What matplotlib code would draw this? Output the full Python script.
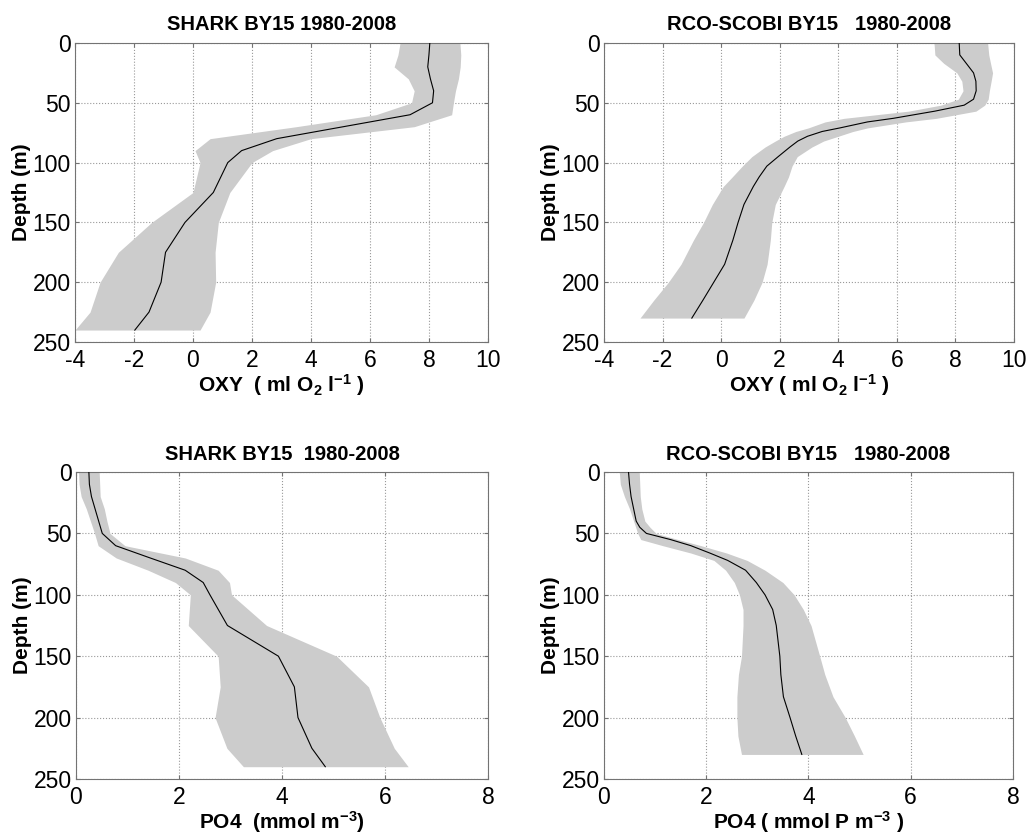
import matplotlib
matplotlib.use("Agg")
import matplotlib.pyplot as plt

plt.rcParams.update({
    "font.family": ["Liberation Sans", "DejaVu Sans"],
    "mathtext.fontset": "custom",
    "mathtext.rm": "Liberation Sans:bold",
    "mathtext.it": "Liberation Sans:bold",
    "mathtext.bf": "Liberation Sans:bold",
    "mathtext.default": "rm",
    "axes.unicode_minus": False,
})

# ---- SHARK observations (standard depths) ----
depth_shark = [0, 10, 20, 30, 40, 50, 60, 70, 80, 90, 100, 125, 150, 175, 200, 225, 240]

oxy_shark_mean = [8.03, 8.0, 7.96, 8.05, 8.16, 8.12, 7.36, 5.1, 2.84, 1.65, 1.18,
                  0.69, -0.27, -0.93, -1.08, -1.49, -1.97]
oxy_shark_low = [7.02, 6.95, 6.82, 7.3, 7.5, 7.41, 6.2, 3.5, 0.58, 0.07, 0.24,
                 0.0, -1.4, -2.53, -3.15, -3.49, -4.0]
oxy_shark_high = [9.05, 9.08, 9.06, 9.0, 8.9, 8.83, 8.77, 7.5, 4.0, 2.7, 2.0,
                  1.25, 0.86, 0.75, 0.77, 0.58, 0.24]

po4_shark_mean = [0.25, 0.26, 0.3, 0.37, 0.44, 0.51, 0.77, 1.44, 2.12, 2.47, 2.6,
                  2.94, 3.93, 4.24, 4.31, 4.58, 4.84]
po4_shark_low = [0.05, 0.06, 0.1, 0.2, 0.28, 0.36, 0.43, 0.78, 1.4, 1.93, 2.22,
                 2.18, 2.76, 2.8, 2.7, 2.93, 3.25]
po4_shark_high = [0.45, 0.46, 0.47, 0.55, 0.6, 0.66, 0.95, 2.12, 2.76, 2.98, 3.02,
                  3.7, 5.06, 5.68, 5.9, 6.18, 6.45]

# ---- RCO-SCOBI model ----
depth_rco_oxy = [0, 10, 17, 25, 32, 40, 47, 52, 57, 63, 66, 71, 74, 78, 82, 87, 95,
                 103, 112, 120, 135, 150, 165, 185, 200, 215, 230]
oxy_rco_mean = [8.13, 8.15, 8.37, 8.62, 8.7, 8.71, 8.62, 8.3, 7.3, 5.88, 5.0, 4.06,
                3.45, 2.95, 2.62, 2.35, 1.95, 1.56, 1.3, 1.1, 0.78, 0.58, 0.4, 0.12,
                -0.25, -0.62, -1.0]
oxy_rco_low = [7.27, 7.3, 7.6, 8.05, 8.22, 8.26, 8.1, 7.5, 6.4, 4.2, 3.55, 2.98,
               2.55, 2.15, 1.85, 1.5, 1.05, 0.72, 0.38, 0.07, -0.3, -0.6, -0.95,
               -1.37, -1.8, -2.3, -2.77]
oxy_rco_high = [9.1, 9.14, 9.2, 9.27, 9.22, 9.16, 9.12, 9.0, 8.7, 7.35, 6.3, 5.0,
                4.5, 4.0, 3.5, 3.1, 2.6, 2.42, 2.3, 2.15, 1.85, 1.73, 1.68, 1.57,
                1.4, 1.12, 0.78]

depth_rco_po4 = [0, 10, 20, 30, 40, 45, 50, 55, 60, 66, 72, 80, 90, 100, 112, 125,
                 150, 165, 183, 200, 215, 230]
po4_rco_mean = [0.48, 0.5, 0.53, 0.58, 0.63, 0.7, 0.83, 1.3, 1.7, 2.07, 2.42, 2.77,
                2.98, 3.15, 3.3, 3.37, 3.44, 3.46, 3.51, 3.64, 3.75, 3.87]
po4_rco_low = [0.3, 0.32, 0.4, 0.5, 0.58, 0.62, 0.66, 0.72, 1.15, 1.7, 2.15, 2.38,
               2.55, 2.65, 2.72, 2.72, 2.69, 2.63, 2.6, 2.6, 2.62, 2.69]
po4_rco_high = [0.69, 0.7, 0.71, 0.74, 0.8, 0.9, 1.02, 1.45, 1.9, 2.4, 2.8, 3.15,
                3.5, 3.72, 3.9, 4.05, 4.22, 4.32, 4.48, 4.72, 4.9, 5.07]

panels = [
    # rect, title, xlabel, depth, mean, low, high, xlim, xticks
    ([0.0730, 0.5909, 0.4021, 0.3577], "SHARK BY15 1980-2008",
     "OXY  ( ml O$_2$ l$^{-1}$ )", depth_shark,
     oxy_shark_mean, oxy_shark_low, oxy_shark_high, (-4, 10), range(-4, 11, 2)),
    ([0.5881, 0.5909, 0.3992, 0.3577], "RCO-SCOBI BY15   1980-2008",
     "OXY ( ml O$_2$ l$^{-1}$ )", depth_rco_oxy,
     oxy_rco_mean, oxy_rco_low, oxy_rco_high, (-4, 10), range(-4, 11, 2)),
    ([0.0740, 0.0682, 0.4012, 0.3672], "SHARK BY15  1980-2008",
     "PO4  (mmol m$^{-3}$)", depth_shark,
     po4_shark_mean, po4_shark_low, po4_shark_high, (0, 8), range(0, 9, 2)),
    ([0.5881, 0.0682, 0.3982, 0.3672], "RCO-SCOBI BY15   1980-2008",
     "PO4 ( mmol P m$^{-3}$ )", depth_rco_po4,
     po4_rco_mean, po4_rco_low, po4_rco_high, (0, 8), range(0, 9, 2)),
]

fig = plt.figure(figsize=(10.27, 8.36), dpi=100)

for rect, title, xlabel, d, mean, low, high, xlim, xticks in panels:
    ax = fig.add_axes(rect)
    ax.fill_betweenx(d, low, high, color="0.8", lw=0, zorder=2)
    ax.plot(mean, d, color="black", lw=0.8, zorder=3)
    ax.set_xlim(*xlim)
    ax.set_ylim(250, 0)
    ax.set_xticks(list(xticks))
    ax.set_yticks(range(0, 251, 50))
    ax.grid(True, linestyle=":", color="0.6", lw=0.8, zorder=1)
    ax.tick_params(direction="in", length=3, labelsize=16.5, top=True, right=True,
                   color="0.45")
    ax.tick_params(axis="x", pad=5)
    ax.tick_params(axis="y", pad=3)
    for s in ax.spines.values():
        s.set_color("0.45")
    ax.set_title(title, fontsize=14.5, fontweight="bold", pad=9)
    ax.set_xlabel(xlabel, fontsize=15, fontweight="bold", labelpad=0)
    ax.set_ylabel("Depth (m)", fontsize=15, fontweight="bold", labelpad=1)

fig.savefig("out.png", dpi=100, facecolor="white")
